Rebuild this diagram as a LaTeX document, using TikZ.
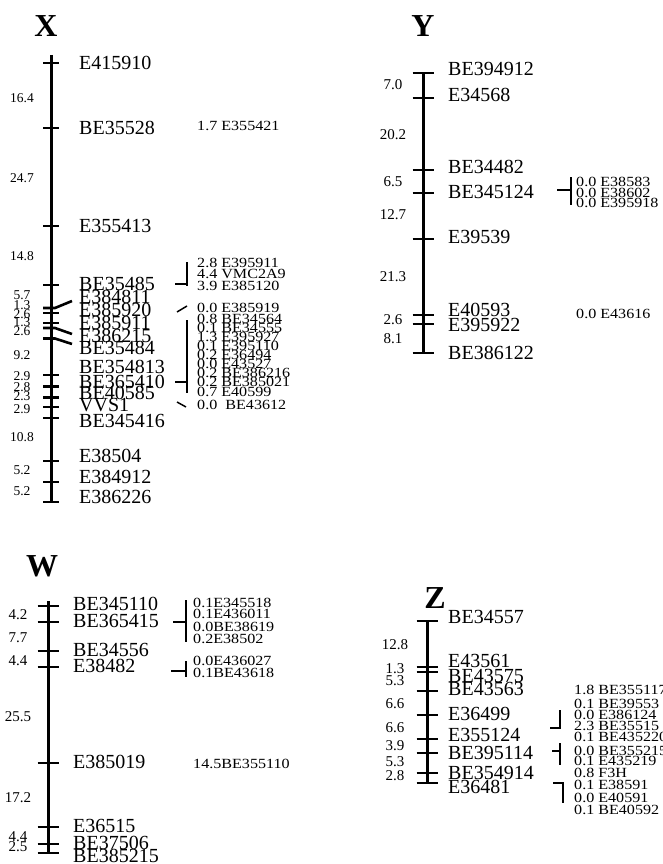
\documentclass[tikz,border=0pt]{standalone}
\usepackage{fontspec}
\setmainfont{Liberation Serif}
\newfontfamily\sidefont[FakeStretch=1.15]{Liberation Serif}
\tikzset{
  chrom/.style={line width=3pt},
  tickmark/.style={line width=2.6pt},
  brk/.style={line width=1.5pt},
  mname/.style={anchor=west, inner sep=0pt, font=\fontsize{20}{20}\selectfont},
  dist/.style={inner sep=0pt, font=\fontsize{15}{15}\selectfont},
  side/.style={anchor=west, inner sep=0pt, font=\sidefont\fontsize{14}{14}\selectfont},
  chtitle/.style={inner sep=0pt, font=\bfseries\fontsize{32}{32}\selectfont},
}
\begin{document}
\begin{tikzpicture}[x=1pt, y=-1pt]
    \useasboundingbox (0,0) rectangle (663,864);

    % X
    \node[chtitle] (tx) at (46,26) {X};
    \draw[chrom] (51,55) -- (51,502);
    \foreach \y in {63,128,226,285,313,323,375,386.6,397.7,406.8,418,461,482,502}
        \draw[tickmark] (43,\y) -- (59,\y);
    \draw[tickmark] (43,308) -- (55,308) -- (72,301);
    \draw[tickmark] (43,328) -- (55,328) -- (72,334);
    \draw[tickmark] (43,338.5) -- (55,338.5) -- (72,344);
    \foreach \y/\t in {63/E415910,128/BE35528,226/E355413,284/BE35485,297/E384811,
        310/E385920,323/E385911,336/E386215,348/BE35484,367/BE354813,382/BE365410,
        393/BE40585,405/VVS1,421/BE345416,456/E38504,477/E384912,497/E386226}
        \node[mname] (x-\t) at (79,\y) {\t};
    \foreach \y/\d [count=\i] in {98/16.4,178/24.7,256/14.8,295/5.7,305/1.3,314/2.6,
        322/1.3,331/2.6,355/9.2,376/2.9,387/2.8,396/2.3,409/2.9,437/10.8,470/5.2,491/5.2}
        \node[dist, font=\fontsize{13.5}{13.5}\selectfont] (xd\i) at (22,\y) {\d};
    \node[side] (xs0) at (197,126) {1.7 E355421};
    \foreach \y/\t [count=\i] in {263/2.8 E395911,274/4.4 VMC2A9,286/3.9 E385120,
        308/0.0 E385919,319/0.8 BE34564,328/0.1 BE34555,337/1.3 E395927,
        346/0.1 E395110,355/0.2 E36494,364/0.0 E43527,373/0.2 BE386216,
        382/0.2 BE385021,392/0.7 E40599,405/0.0\ \ BE43612}
        \node[side] (xs\i) at (197,\y) {\t};
    \draw[brk] (175,284) -- (187,284);
    \draw[brk] (187,262) -- (187,286);
    \draw[brk] (177,312) -- (187,306);
    \draw[brk] (175,382) -- (187,382);
    \draw[brk] (187,320) -- (187,393);
    \draw[brk] (177,402) -- (186,407);

    % Y
    \node[chtitle] (ty) at (423,26) {Y};
    \draw[chrom] (423,73) -- (423,353);
    \foreach \y in {73,98,170,193,239,315,324,353}
        \draw[tickmark] (412.5,\y) -- (433.5,\y);
    \foreach \y/\t in {69/BE394912,95/E34568,167/BE34482,192/BE345124,237/E39539,
        310/E40593,325/E395922,353/BE386122}
        \node[mname] (y-\t) at (448,\y) {\t};
    \foreach \y/\d [count=\i] in {85/7.0,135/20.2,182/6.5,215/12.7,277/21.3,320/2.6,339/8.1}
        \node[dist] (yd\i) at (393,\y) {\d};
    \foreach \y/\t [count=\i] in {182/0.0 E38583,193/0.0 E38602,203/0.0 E395918,314/0.0 E43616}
        \node[side] (ys\i) at (576,\y) {\t};
    \draw[brk] (557,190) -- (571,190);
    \draw[brk] (571,177) -- (571,205);

    % W
    \node[chtitle] (tw) at (42,566) {W};
    \draw[chrom] (48,601) -- (48,853);
    \foreach \y in {606,622,651,667,763,827,844,853}
        \draw[tickmark] (37.5,\y) -- (58.5,\y);
    \foreach \y/\t in {604/BE345110,621/BE365415,650/BE34556,666/E38482,762/E385019,
        826/E36515,843/BE37506,856/BE385215}
        \node[mname] (w-\t) at (73,\y) {\t};
    \foreach \y/\d [count=\i] in {615/4.2,638/7.7,661/4.4,717/25.5,798/17.2,837/4.4,847/2.5}
        \node[dist] (wd\i) at (18,\y) {\d};
    \foreach \y/\t [count=\i] in {603/0.1E345518,614/0.1E436011,627/0.0BE38619,
        639/0.2E38502,661/0.0E436027,673/0.1BE43618,764/14.5BE355110}
        \node[side] (ws\i) at (193,\y) {\t};
    \draw[brk] (173,622) -- (186,622);
    \draw[brk] (186,600) -- (186,642);
    \draw[brk] (171,671) -- (186,671);
    \draw[brk] (186,661) -- (186,677);

    % Z
    \node[chtitle] (tz) at (435,598) {Z};
    \draw[chrom] (427,621) -- (427,783);
    \foreach \y in {621,667,672,691,715,739,753,773,783}
        \draw[tickmark] (416.5,\y) -- (437.5,\y);
    \foreach \y/\t in {617/BE34557,661/E43561,676/BE43575,689/BE43563,714/E36499,
        735/E355124,753/BE395114,773/BE354914,787/E36481}
        \node[mname] (z-\t) at (448,\y) {\t};
    \foreach \y/\d [count=\i] in {645/12.8,669/1.3,681/5.3,704/6.6,728/6.6,746/3.9,762/5.3,776/2.8}
        \node[dist] (zd\i) at (395,\y) {\d};
    \foreach \y/\t [count=\i] in {690/1.8 BE355117,704/0.1 BE39553,715/0.0 E386124,
        726/2.3 BE35515,737/0.1 BE435220,751/0.0 BE355215,761/0.1 E435219,
        773/0.8 F3H,785/0.1 E38591,798/0.0 E40591,810/0.1 BE40592}
        \node[side] (zs\i) at (574,\y) {\t};
    \draw[brk] (560,710) -- (560,728) -- (550,728);
    \draw[brk] (552,751) -- (560,751);
    \draw[brk] (560,743) -- (560,765);
    \draw[brk] (553,783) -- (563,783) -- (563,803);
\end{tikzpicture}
\end{document}
